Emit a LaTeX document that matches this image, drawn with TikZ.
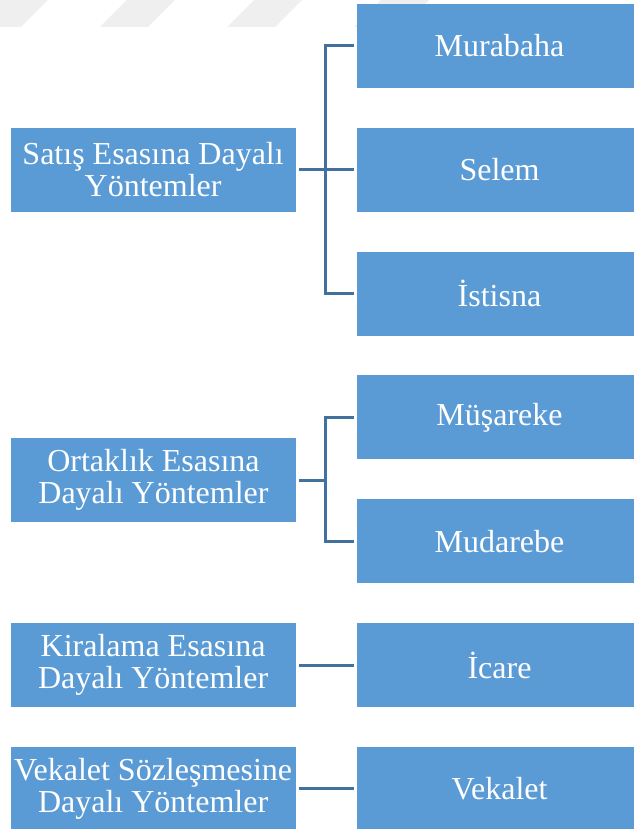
\documentclass[tikz,border=0pt]{standalone}
\usepackage{fontspec}
\setmainfont{Liberation Serif}
\usepackage{tikz}
\usetikzlibrary{positioning}
\definecolor{boxblue}{HTML}{5B9BD5}
\definecolor{linkblue}{HTML}{41719C}
\definecolor{markgray}{HTML}{EFEFEF}

\begin{document}
\begin{tikzpicture}[
            x=1pt, y=-1pt,
            node distance=61pt,
            box/.style={rectangle, fill=boxblue, minimum width=285pt, minimum height=84pt, inner sep=0pt, text=white, align=center, font=\fontsize{32}{32}\selectfont},
            link/.style={draw=linkblue, line width=3pt, shorten <=3pt, shorten >=3pt}
        ]
        \useasboundingbox (0,0) rectangle (633,829);

        % Faint stripes at the top
        \foreach \x in {-27,100,227,354} {
                \fill[markgray] (\x,27) -- ++(48,0) -- ++(27,-27) -- ++(-48,0) -- cycle;
            }

        % Methods (right column)
        \foreach \n/\t [count=\i from 0] in {mur/Murabaha, sel/Selem, ist/İstisna, mus/Müşareke, mud/Mudarebe, ica/İcare, vek/Vekalet} {
                \node[box] (\n) at (499.5, 46+\i*123.8) {\t};
            }

        % Groups (left column)
        \node[box, left=of sel] (sat) {Satış Esasına Dayalı\\Yöntemler};
        \node[box] (ort) at (153.5, 480) {Ortaklık Esasına\\Dayalı Yöntemler};
        \node[box, left=of ica] (kir) {Kiralama Esasına\\Dayalı Yöntemler};
        \node[box, left=of vek] (vsz) {Vekalet Sözleşmesine\\Dayalı Yöntemler};

        % Connectors
        \draw[link] (mur.west) -- ++(-31,0) |- (ist.west);
        \draw[link] (sat.east) -- (sel.west);
        \draw[link] (mus.west) -- ++(-31,0) |- (mud.west);
        \draw[link] (ort.east) -- ++(33,0);
        \draw[link] (kir.east) -- (ica.west);
        \draw[link] (vsz.east) -- (vek.west);
    \end{tikzpicture}
\end{document}
